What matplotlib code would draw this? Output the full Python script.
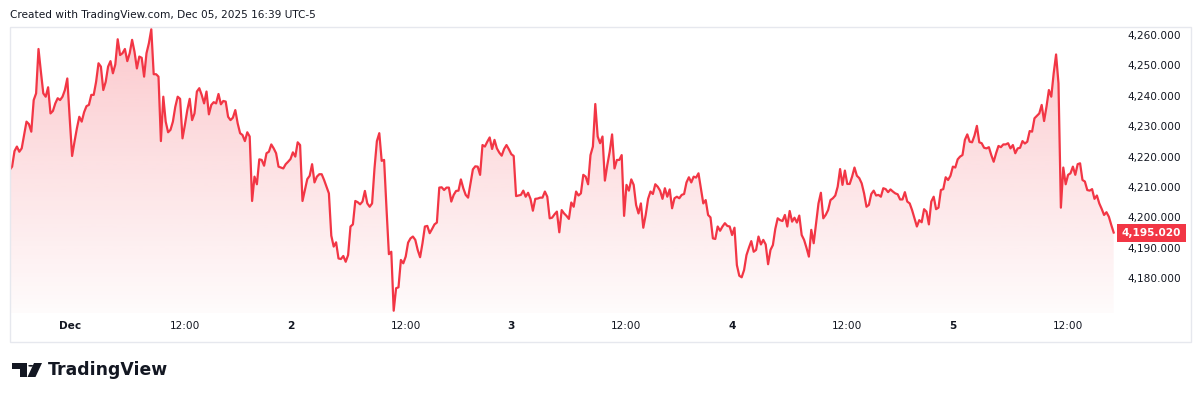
import matplotlib
matplotlib.use("Agg")
import matplotlib.pyplot as plt
import numpy as np
from matplotlib.patches import Rectangle, Circle, Polygon
from matplotlib.transforms import blended_transform_factory

# ---------------- data (15-minute closes, Nov 30 evening -> Dec 5 afternoon) ----------------
prices_1 = [
    4215.6, 4216.7, 4221.8, 4223.3, 4221.6, 4222.7, 4227.1, 4231.5, 4230.7, 4228.2,
    4238.6, 4240.8, 4255.4, 4247.9, 4240.8, 4239.7, 4242.8, 4234.2, 4235.0, 4237.5,
    4239.2, 4238.6, 4239.7, 4241.9, 4245.7, 4232.6, 4220.2, 4224.9, 4229.3, 4233.1,
    4231.5, 4234.6, 4236.6, 4237.0, 4240.3, 4240.3, 4244.6, 4250.7, 4249.6, 4241.9,
    4244.6, 4249.6, 4251.4, 4247.4, 4250.3, 4258.6, 4253.4, 4254.0, 4255.4, 4251.4,
    4254.0, 4258.4, 4254.5, 4249.0, 4252.9, 4252.5, 4246.3, 4254.0, 4257.3, 4261.9,
    4247.1, 4247.1, 4246.3, 4225.1, 4239.7, 4231.5, 4228.0, 4228.8, 4231.5, 4236.4,
    4239.7, 4239.0, 4226.0, 4230.4, 4235.3, 4239.0, 4232.0, 4234.2,
]
prices_2 = [
    4241.4, 4242.5, 4240.3, 4237.5, 4241.4, 4233.9, 4237.0, 4237.9, 4237.5, 4240.6,
    4237.2, 4238.3, 4238.1, 4233.1, 4232.0, 4232.8, 4235.3, 4230.9, 4227.7, 4227.1,
    4225.1, 4228.0, 4226.6, 4205.4, 4213.4, 4210.9, 4219.1, 4218.9, 4217.0, 4221.1,
    4221.6, 4224.0, 4222.7, 4221.1, 4216.7, 4216.4, 4216.1, 4217.5, 4218.3, 4219.2,
    4221.4, 4220.0, 4224.7, 4223.8, 4205.4, 4209.0, 4212.6, 4213.7, 4217.5, 4211.5,
    4213.4, 4214.2, 4214.2, 4212.3, 4210.1, 4207.9, 4194.0, 4190.4, 4191.8, 4186.5,
    4186.3, 4187.3, 4185.4, 4187.6, 4197.0, 4197.7, 4205.4, 4205.0, 4204.3, 4205.2,
    4208.7, 4204.6, 4203.5, 4204.6, 4216.1, 4225.1,
]
prices_3 = [
    4227.7, 4218.6, 4218.9, 4203.0, 4187.9, 4188.7, 4169.3, 4176.7, 4177.0, 4186.0,
    4184.9, 4187.1, 4191.7, 4193.1, 4193.7, 4192.6, 4189.3, 4186.9, 4191.5, 4197.0,
    4197.2, 4194.8, 4196.2, 4197.7, 4198.3, 4209.8, 4209.9, 4209.0, 4209.8, 4209.8,
    4205.2, 4207.4, 4208.7, 4208.8, 4212.5, 4209.6, 4207.4, 4206.5, 4211.2, 4215.8,
    4216.8, 4216.7, 4214.0, 4223.8, 4223.3, 4224.9, 4226.3, 4222.5, 4225.5, 4222.7,
    4221.3, 4220.3, 4222.5, 4223.8, 4222.4, 4220.8, 4220.2, 4207.0, 4207.2, 4207.4,
    4208.8, 4206.8, 4208.1, 4206.1, 4202.2, 4206.1, 4206.2, 4206.5, 4206.5, 4208.5,
    4206.8, 4199.7, 4199.9, 4201.0, 4201.9, 4195.1, 4202.4,
]
prices_4 = [
    4201.3, 4200.5, 4199.5, 4204.9, 4203.5, 4208.5, 4207.2, 4207.9, 4214.0, 4213.4,
    4210.9, 4220.5, 4223.3, 4237.3, 4226.6, 4224.4, 4226.6, 4212.1, 4217.2, 4221.6,
    4227.3, 4216.1, 4218.9, 4218.9, 4220.5, 4200.5, 4210.7, 4208.8, 4212.5, 4210.7,
    4204.1, 4201.3, 4204.6, 4196.6, 4200.8, 4206.1, 4208.5, 4207.7, 4210.9, 4210.1,
    4208.8, 4206.1, 4209.6, 4206.8, 4209.2, 4203.0, 4206.3, 4206.8, 4206.3, 4207.4,
    4207.7, 4211.5, 4213.2, 4211.5, 4213.4, 4213.1, 4214.5, 4209.6, 4204.6, 4205.7,
    4200.8, 4200.0, 4193.1, 4192.9, 4197.0, 4195.6, 4197.0, 4198.1, 4197.2, 4197.0,
    4194.2, 4196.6, 4184.3, 4180.8, 4180.3, 4182.7, 4187.6,
]
prices_5 = [
    4190.0, 4192.2, 4188.7, 4189.3, 4193.7, 4191.1, 4192.6, 4191.1, 4184.6, 4189.3,
    4190.9, 4196.2, 4199.7, 4199.1, 4198.8, 4200.8, 4197.0, 4202.1, 4198.6, 4199.9,
    4198.3, 4200.6, 4194.2, 4192.6, 4190.0, 4187.1, 4195.9, 4191.5, 4198.1, 4204.6,
    4208.1, 4199.7, 4200.8, 4202.4, 4205.7, 4206.3, 4207.2, 4210.1, 4215.9, 4210.7,
    4215.4, 4211.0, 4211.0, 4213.4, 4216.4, 4213.7, 4212.9, 4211.2, 4207.9, 4203.5,
    4204.1, 4207.7, 4208.8, 4207.2, 4207.4, 4206.8, 4209.6, 4209.3, 4208.3, 4209.2,
    4208.5, 4207.9, 4207.6, 4205.9, 4205.9, 4208.3, 4205.2, 4204.6, 4202.4, 4199.7,
    4197.0, 4199.1, 4198.4, 4202.7, 4201.9, 4197.7, 4205.2,
]
prices_6 = [
    4206.8, 4202.7, 4203.2, 4209.0, 4209.3, 4213.2, 4212.3, 4213.7, 4216.7, 4216.4,
    4219.1, 4220.0, 4220.5, 4225.5, 4227.3, 4224.9, 4224.7, 4226.9, 4230.1, 4224.7,
    4224.4, 4222.9, 4222.7, 4223.1, 4220.5, 4218.3, 4221.1, 4223.5, 4223.1, 4224.0,
    4224.0, 4224.4, 4222.7, 4223.8, 4221.1, 4222.7, 4222.9, 4225.1, 4224.3, 4224.9,
    4228.4, 4228.2, 4232.6, 4233.4, 4234.2, 4237.0, 4231.7, 4236.4, 4241.9, 4239.7,
    4247.4, 4253.6, 4244.1, 4203.2, 4216.4, 4210.9, 4214.0, 4214.5, 4216.7, 4214.0,
    4217.5, 4217.8, 4212.3, 4211.8, 4209.0, 4208.8, 4209.3, 4206.1, 4207.2, 4204.6,
    4202.8, 4200.8, 4201.7, 4200.2, 4197.5, 4195.02,
]

tick_bars = [25, 73, 117, 165, 209, 257, 301, 349, 393, 441]
tick_labels = ["Dec", "12:00", "2", "12:00", "3", "12:00", "4", "12:00", "5", "12:00"]
day_labels = ["Dec", "2", "3", "4", "5"]
y_ticks = [4180, 4190, 4200, 4210, 4220, 4230, 4240, 4250, 4260]
header = "Created with TradingView.com, Dec 05, 2025 16:39 UTC-5"
brand = "TradingView"

# ---------------- styling ----------------
RED = "#f23645"
TXT = "#131722"
W, H = 1200, 401
plt.rcParams["font.family"] = ["DejaVu Sans"]


def fx(p):
    return p / W


def fy(p):
    return 1 - p / H


prices = np.array(prices_1 + prices_2 + prices_3 + prices_4 + prices_5 + prices_6)
x = np.arange(len(prices))

fig = plt.figure(figsize=(W / 100, H / 100), dpi=100)
fig.patch.set_facecolor("white")

ax_top_px, ax_bot_px = 27, 313
ax = fig.add_axes([fx(10), fy(ax_bot_px), fx(1118) - fx(10), fy(ax_top_px) - fy(ax_bot_px)])
ylo, yhi = 4168.55, 4262.63
ax.set_xlim(0.125, 461.8)
ax.set_ylim(ylo, yhi)
ax.set_facecolor("white")

# gradient area
poly = ax.fill_between(x, prices, ylo, color="none", lw=0)
n = 256
alpha = np.linspace(0.27, 0.02, n)
rgba = np.zeros((n, 1, 4))
rgba[..., 0] = 242 / 255
rgba[..., 1] = 54 / 255
rgba[..., 2] = 69 / 255
rgba[..., 3] = alpha[:, None]
im = ax.imshow(rgba, extent=[x[0], x[-1], ylo, yhi], aspect="auto",
               origin="upper", zorder=2, interpolation="bilinear")
im.set_clip_path(poly.get_paths()[0], transform=ax.transData)

ax.plot(x, prices, color=RED, lw=1.6, solid_joinstyle="round", zorder=3)

for s in ax.spines.values():
    s.set_visible(False)

ax.set_xticks(tick_bars)
ax.set_xticklabels(tick_labels)
ax.tick_params(axis="x", length=0, pad=6, labelsize=7.6, labelcolor=TXT)
for lab in ax.get_xticklabels():
    if lab.get_text() in day_labels:
        lab.set_fontweight("bold")

ax.yaxis.tick_right()
ax.set_yticks(y_ticks)
ax.set_yticklabels([f"{v:,.3f}" for v in y_ticks])
ax.tick_params(axis="y", length=0, pad=6.5, labelsize=7.6, labelcolor=TXT)

# last price label
last = prices[-1]
trans = blended_transform_factory(fig.transFigure, ax.transData)
dy = 18 * (yhi - ylo) / (ax_bot_px - ax_top_px)
fig.add_artist(Rectangle((fx(1117), last - dy / 2), fx(1186) - fx(1117), dy,
                         transform=trans, fc=RED, ec="none", zorder=5))
fig.text(fx(1151.5), last, f"{last:,.3f}", transform=trans, ha="center", va="center",
         color="white", fontsize=7.6, fontweight="bold", zorder=6)

# frame
fig.add_artist(Rectangle((fx(9.5), fy(341.5)), fx(1190.5) - fx(9.5), fy(26.5) - fy(341.5),
                         transform=fig.transFigure, fill=False, ec="#e6e8ee", lw=1))

# header
fig.text(fx(10), fy(15), header, ha="left", va="center", fontsize=7.6, color=TXT)

# logo
logo_col = "#131722"
fig.add_artist(Polygon([(fx(11.5), fy(363)), (fx(26.5), fy(363)), (fx(26.5), fy(377)),
                        (fx(19.5), fy(377)), (fx(19.5), fy(368.5)), (fx(11.5), fy(368.5))],
                       closed=True, transform=fig.transFigure, fc=logo_col, ec="none"))
fig.add_artist(Circle((fx(30.8), fy(365.8)), 2.6 / W, transform=fig.transFigure,
                      fc=logo_col, ec="none"))
fig.add_artist(Polygon([(fx(34), fy(363)), (fx(42), fy(363)), (fx(35.5), fy(377)),
                        (fx(27.5), fy(377))],
                       closed=True, transform=fig.transFigure, fc=logo_col, ec="none"))
fig.text(fx(48), fy(370), brand, ha="left", va="center", fontsize=12.4,
         fontweight="bold", color=logo_col)

fig.savefig("out.png", dpi=100, facecolor="white")
